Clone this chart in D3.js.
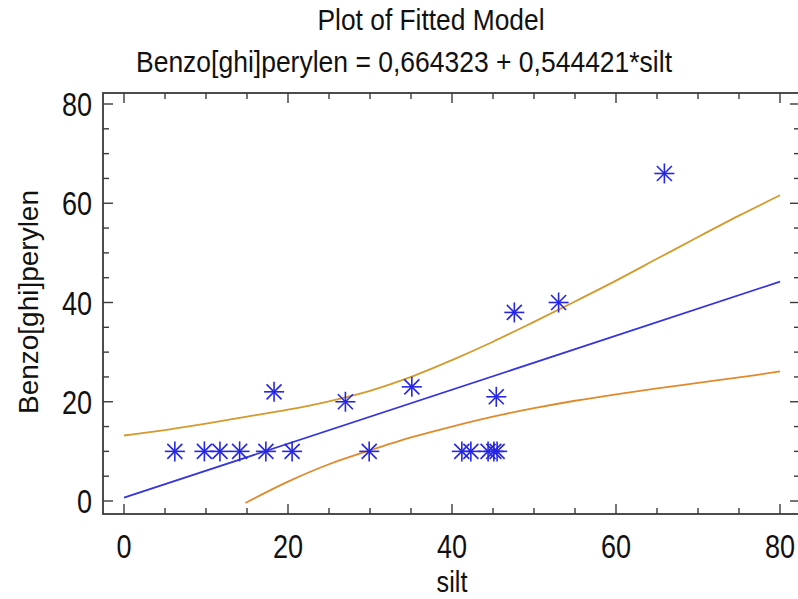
<!DOCTYPE html>
<html>
<head>
<meta charset="utf-8">
<script src="https://cdn.jsdelivr.net/npm/d3@7"></script>
<style>
  body { margin: 0; background: #fff; }
  svg { display: block; }
  text { font-family: "Liberation Sans", Arial, sans-serif; fill: #111; }
</style>
</head>
<body>
<svg id="chart" width="798" height="599"></svg>
<script>
// observed points (silt vs Benzo[ghi]perylen)
const siltX = [6.2, 9.8, 11.7, 14.1, 17.3, 20.5, 18.3, 27.0, 29.9, 35.1, 41.2, 42.3, 44.4, 45.1, 45.5, 45.4, 47.6, 53.0, 65.9];
const benzoY = [10, 10, 10, 10, 10, 10, 22, 20, 10, 23, 10, 10, 10, 10, 10, 21, 38, 40, 66];

// fitted line ends
const fitX = [0, 80];
const fitY = [0.66, 44.2];

// confidence limits
const upperX = [0, 5, 10, 15, 20, 25, 30, 35, 40, 45, 50, 55, 60, 65, 70, 75, 80];
const upperY = [13.2, 14.3, 15.6, 17.0, 18.4, 20.1, 22.2, 25.0, 28.4, 32.1, 36.1, 40.2, 44.4, 48.8, 53.2, 57.5, 61.6];
const lowerX = [14.8, 20, 25, 30, 35, 40, 45, 50, 55, 60, 65, 70, 75, 80];
const lowerY = [-0.4, 3.9, 7.4, 10.2, 12.8, 15.0, 17.0, 18.7, 20.2, 21.5, 22.7, 23.8, 24.9, 26.1];

const xTicks = [0, 20, 40, 60, 80];
const yTicks = [0, 20, 40, 60, 80];

const svg = d3.select('#chart');

// frame in pixels
const fLeft = 103, fRight = 800, fTop = 93, fBottom = 514;

const x = d3.scaleLinear().domain([0, 80]).range([124, 780]);
const y = d3.scaleLinear().domain([0, 80]).range([501, 104]);

const xMinor = d3.range(0, 81, 5);
const yMinor = d3.range(0, 81, 5);

// titles
svg.append('text').attr('x', 431).attr('y', 30).attr('text-anchor', 'middle')
  .attr('font-size', 29).attr('textLength', 227).attr('lengthAdjust', 'spacingAndGlyphs')
  .text('Plot of Fitted Model');
svg.append('text').attr('x', 404).attr('y', 72).attr('text-anchor', 'middle')
  .attr('font-size', 29).attr('textLength', 536).attr('lengthAdjust', 'spacingAndGlyphs')
  .text('Benzo[ghi]perylen = 0,664323 + 0,544421*silt');

// clip to frame
svg.append('clipPath').attr('id', 'clip').append('rect')
  .attr('x', fLeft).attr('y', fTop).attr('width', fRight - fLeft).attr('height', fBottom - fTop);

const plot = svg.append('g').attr('clip-path', 'url(#clip)');

const line = d3.line().x(d => x(d[0])).y(d => y(d[1])).curve(d3.curveCatmullRom);

plot.append('path').datum(d3.zip(upperX, upperY)).attr('d', line)
  .attr('fill', 'none').attr('stroke', '#d49a2c').attr('stroke-width', 1.8);
plot.append('path').datum(d3.zip(lowerX, lowerY)).attr('d', line)
  .attr('fill', 'none').attr('stroke', '#e08a2c').attr('stroke-width', 1.8);
plot.append('path').datum(d3.zip(fitX, fitY)).attr('d', line)
  .attr('fill', 'none').attr('stroke', '#3434e0').attr('stroke-width', 1.8);

// asterisk markers
const r = 10, rd = 7.5;
const marks = plot.selectAll('g.pt').data(d3.zip(siltX, benzoY)).enter().append('g')
  .attr('class', 'pt')
  .attr('transform', d => `translate(${x(d[0])},${y(d[1])})`)
  .attr('stroke', '#2626e4').attr('stroke-width', 1.6);
marks.append('line').attr('x1', 0).attr('y1', -r).attr('x2', 0).attr('y2', r);
marks.append('line').attr('x1', -r).attr('y1', 0).attr('x2', r).attr('y2', 0);
marks.append('line').attr('x1', -rd).attr('y1', -rd).attr('x2', rd).attr('y2', rd);
marks.append('line').attr('x1', -rd).attr('y1', rd).attr('x2', rd).attr('y2', -rd);

// frame
svg.append('rect').attr('x', fLeft).attr('y', fTop).attr('width', fRight - fLeft).attr('height', fBottom - fTop)
  .attr('fill', 'none').attr('stroke', '#3a3a3a').attr('stroke-width', 1.8);

// ticks on all four sides, pointing inward
const tk = svg.append('g').attr('stroke', '#3a3a3a').attr('stroke-width', 1.4);
xMinor.forEach(v => {
  const len = xTicks.includes(v) ? 10 : 6;
  tk.append('line').attr('x1', x(v)).attr('x2', x(v)).attr('y1', fBottom).attr('y2', fBottom - len);
  tk.append('line').attr('x1', x(v)).attr('x2', x(v)).attr('y1', fTop).attr('y2', fTop + len);
});
yMinor.forEach(v => {
  const len = yTicks.includes(v) ? 10 : 6;
  tk.append('line').attr('y1', y(v)).attr('y2', y(v)).attr('x1', fLeft).attr('x2', fLeft + len);
  tk.append('line').attr('y1', y(v)).attr('y2', y(v)).attr('x1', fRight).attr('x2', fRight - len);
});

// tick labels (narrow, like the original)
svg.selectAll('text.xl').data(xTicks).enter().append('text').attr('class', 'xl')
  .attr('transform', d => `translate(${x(d)},558) scale(0.82,1)`)
  .attr('text-anchor', 'middle').attr('font-size', 33)
  .text(d => d);
svg.selectAll('text.yl').data(yTicks).enter().append('text').attr('class', 'yl')
  .attr('transform', d => `translate(92,${y(d) + 12}) scale(0.82,1)`)
  .attr('text-anchor', 'end').attr('font-size', 33)
  .text(d => d);

// axis titles
svg.append('text').attr('transform', 'translate(452,592) scale(0.84,1)').attr('text-anchor', 'middle')
  .attr('font-size', 30).text('silt');
svg.append('text').attr('transform', 'translate(38,302) rotate(-90)').attr('text-anchor', 'middle')
  .attr('font-size', 28).attr('textLength', 224).attr('lengthAdjust', 'spacingAndGlyphs')
  .text('Benzo[ghi]perylen');
</script>
</body>
</html>
